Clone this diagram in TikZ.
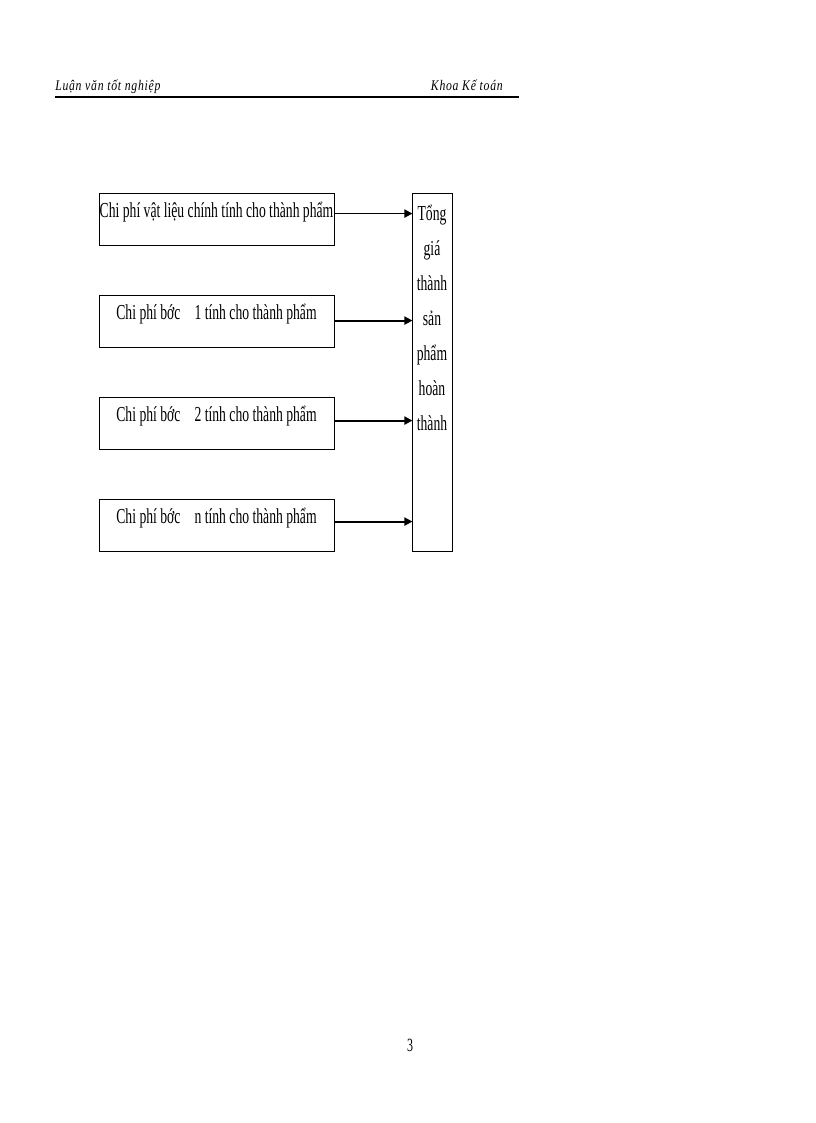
\documentclass[tikz,border=0pt]{standalone}
\usepackage{fontspec}
\setmainfont{Liberation Serif}
\newfontfamily\narrowfont[FakeStretch=0.64]{Liberation Serif}
\newfontfamily\headfont[LetterSpace=5,FakeStretch=0.8]{Liberation Serif}
\usetikzlibrary{calc, positioning, arrows.meta}

\tikzset{
	costbox/.style={draw, line width=0.65pt, minimum width=176.25pt, minimum height=39pt, inner sep=0pt},
	costtext/.style={font=\narrowfont\fontsize{16}{18}\selectfont, inner sep=0pt},
	feed/.style={line width=1.4pt, -{Triangle[length=6pt,width=6pt]}}
}

\begin{document}
\begin{tikzpicture}[x=0.75pt, y=-0.75pt]
		\useasboundingbox (0,0) rectangle (816,1123);

		% header
		\node[anchor=base west, inner sep=0pt, font=\headfont\itshape\fontsize{11}{13}\selectfont]
			(thesis) at (55,91) {Luận văn tốt nghiệp};
		\node[anchor=base east, inner sep=0pt, font=\headfont\itshape\fontsize{11}{13}\selectfont]
			(faculty) at (503,91) {Khoa Kế toán};
		\coordinate (rulestart) at (55,97);
		\coordinate (ruleend) at (519,97);
		\draw[line width=2.2pt] (rulestart) -- (ruleend);

		% cost boxes
		\node[costbox] (mat) at (216.5,219) {};
		\node[costbox] (stepone) at (216.5,321) {};
		\node[costbox] (steptwo) at (216.5,423) {};
		\node[costbox] (stepn) at (216.5,525) {};

		\node[costtext, below=7pt of mat.north] {Chi phí vật liệu chính tính cho thành phẩm};
		\node[costtext, below=7pt of stepone.north] {Chi phí bớc\enspace\ 1 tính cho thành phẩm};
		\node[costtext, below=7pt of steptwo.north] {Chi phí bớc\enspace\ 2 tính cho thành phẩm};
		\node[costtext, below=7pt of stepn.north] {Chi phí bớc\enspace\ n tính cho thành phẩm};

		% total box
		\node[draw, line width=0.65pt, minimum width=30pt, minimum height=268.5pt, inner sep=0pt]
			(total) at (432,372) {};
		\node[costtext, align=center, below=9pt of total.north,
			font=\narrowfont\fontsize{16}{26.25}\selectfont]
			(totaltext) {Tổng\\giá\\thành\\sản\\phẩm\\hoàn\\thành};

		% arrows
		\draw[feed] ($(mat.north east)+(0,21)$) -- ($(mat.north east)+(78,21)$);
		\draw[feed] ($(stepone.north east)+(0,26)$) -- ($(stepone.north east)+(78,26)$);
		\draw[feed] ($(steptwo.north east)+(0,24)$) -- ($(steptwo.north east)+(78,24)$);
		\draw[feed] ($(stepn.north east)+(0,23)$) -- ($(stepn.north east)+(78,23)$);

		% page number
		\node[anchor=base, inner sep=0pt, font=\narrowfont\fontsize{14}{16}\selectfont]
			(pagenum) at (410,1051) {3};
\end{tikzpicture}
\end{document}
